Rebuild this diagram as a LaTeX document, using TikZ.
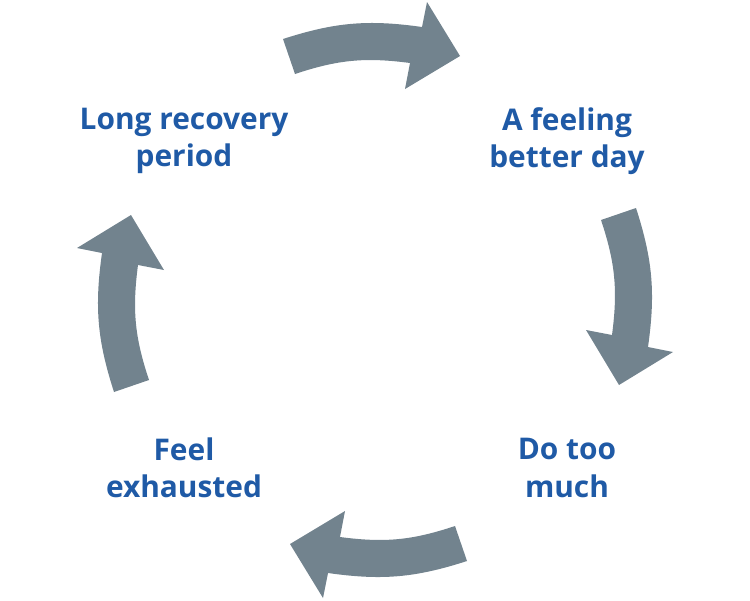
\documentclass[tikz,border=0pt]{standalone}
\usepackage{fontspec}
\setmainfont{Open Sans}
\definecolor{cycleblue}{RGB}{31,90,166}
\definecolor{arrowgray}{RGB}{114,131,142}

\begin{document}
\begin{tikzpicture}[x=0.02cm, y=0.02cm]
		\tikzstyle{stage} = [align=center, text=cycleblue, font=\fontsize{17}{21.3}\selectfont\bfseries, inner sep=0pt]
		\tikzstyle{bigarrow} = [fill=arrowgray, draw=none]
		%-------------------------------------------------------
		\useasboundingbox (0,0) rectangle (750,600);
		\coordinate (mid) at (375,300);
		
		% the four stages
		\node (recovery) [stage] at (184,459) {Long recovery\\period};
		\node (better) [stage] at (567,459) {A feeling\\better day};
		\node (toomuch) [stage] at (567,132) {Do too\\much};
		\node (exhausted) [stage] at (184,132) {Feel\\exhausted};
		
		% one curved arrow, turned round the middle four times
		\foreach \r in {0,-90,-180,-270}
		{
			\fill [bigarrow, rotate around={\r:(mid)}]
				(283,561) to[bend left=13] (422,573) -- (427,598) -- (460,544)
				-- (405,511) -- (410,537) to[bend right=13] (295,526) -- cycle;
		}
\end{tikzpicture}
\end{document}
